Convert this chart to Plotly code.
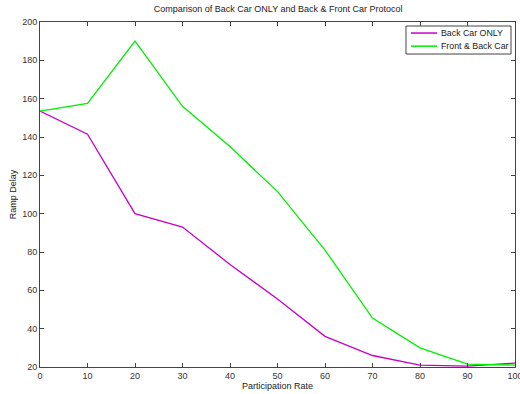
import plotly.graph_objects as go

participation = [0, 10, 20, 30, 40, 50, 60, 70, 80, 90, 100]
back_only = [153.5, 141.5, 100, 93, 73.5, 55.5, 36, 26, 21, 20.5, 22]
front_back = [153.5, 157.5, 190, 156, 135, 111.5, 81, 45.5, 30, 21.5, 21]

series_names = ["Back Car ONLY", "Front & Back Car"]
series_colors = ["#c800c8", "#00ee00"]

x_ticks = [0, 10, 20, 30, 40, 50, 60, 70, 80, 90, 100]
y_ticks = [20, 40, 60, 80, 100, 120, 140, 160, 180, 200]

fig = go.Figure()
for name, vals, col in zip(series_names, [back_only, front_back], series_colors):
    fig.add_trace(go.Scatter(x=participation, y=vals, mode="lines",
                             name=name, line=dict(color=col, width=1.3),
                             showlegend=False))

axis_common = dict(showgrid=False, zeroline=False, showline=True, linecolor="#444444",
                   linewidth=1, mirror="ticks", ticks="inside", ticklen=4,
                   tickcolor="#444444", tickfont=dict(size=9, color="#333333"),
                   automargin=False, ticklabeloverflow="allow")

# compact MATLAB-style legend box (paper coordinates)
lx0, lx1, ly0, ly1 = 0.7705, 0.9916, 0.9072, 0.9884
row_y = [0.968, 0.930]
shapes = [dict(type="rect", xref="paper", yref="paper", x0=lx0, x1=lx1, y0=ly0, y1=ly1,
               line=dict(color="#444444", width=1), fillcolor="white", layer="above")]
annotations = []
for name, col, ry in zip(series_names, series_colors, row_y):
    shapes.append(dict(type="line", xref="paper", yref="paper", x0=0.781, x1=0.836,
                       y0=ry, y1=ry, line=dict(color=col, width=1.5), layer="above"))
    annotations.append(dict(xref="paper", yref="paper", x=0.839, y=ry, text=name,
                            showarrow=False, xanchor="left", yanchor="middle",
                            font=dict(size=8.8, color="#222222")))

fig.update_layout(
    width=520, height=394,
    margin=dict(l=40, r=5, t=22, b=27),
    paper_bgcolor="white", plot_bgcolor="white",
    font=dict(family="Liberation Sans, Arial, sans-serif", size=9, color="#222222"),
    title=dict(text="Comparison of Back Car ONLY and Back & Front Car Protocol",
               x=0.535, xanchor="center", y=0.985, yanchor="top",
               font=dict(size=9), automargin=False),
    xaxis=dict(range=[0, 100], tickvals=x_ticks,
               title=dict(text="Participation Rate", standoff=2, font=dict(size=9)),
               **axis_common),
    yaxis=dict(range=[20, 200], tickvals=y_ticks,
               title=dict(text="Ramp Delay", standoff=4, font=dict(size=9)),
               **axis_common),
    shapes=shapes,
    annotations=annotations,
    showlegend=False,
)

fig.write_html("out.html", config={"displayModeBar": False},
               post_script="document.body.style.margin='0';document.body.style.overflow='hidden';")
